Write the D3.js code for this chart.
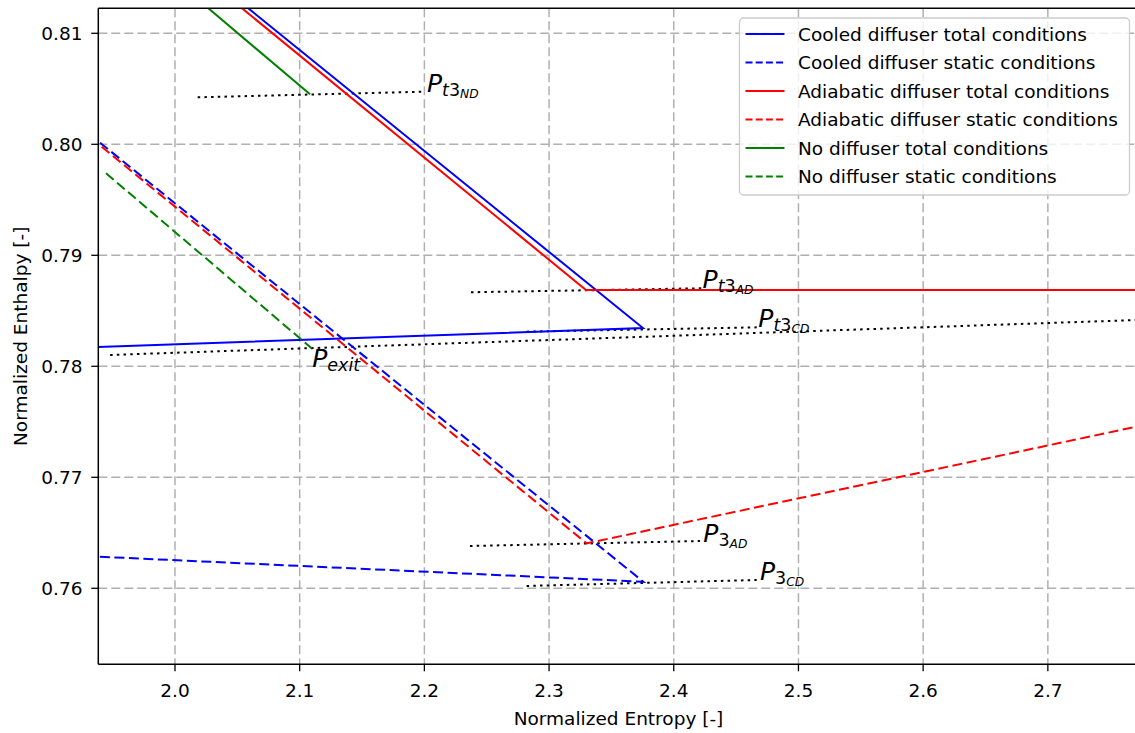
<!DOCTYPE html>
<html>
<head>
<meta charset="utf-8">
<script src="https://cdn.jsdelivr.net/npm/d3@7"></script>
<style>
  html, body { margin: 0; padding: 0; background: #fff; }
  svg { display: block; }
  text { font-family: "DejaVu Sans", sans-serif; fill: #000; }
</style>
</head>
<body>
<svg id="chart" width="1135" height="733"></svg>
<script>
// ---------- data ----------
const xTicks = [2.0, 2.1, 2.2, 2.3, 2.4, 2.5, 2.6, 2.7];
const yTicks = [0.76, 0.77, 0.78, 0.79, 0.80, 0.81];

const cooledTotal     = [[2.03, 0.81487], [2.3753, 0.78345], [1.9385, 0.78174]];
const cooledStatic    = [[1.9399, 0.80014], [2.3756, 0.76059], [1.9385, 0.76285]];
const adiabaticTotal  = [[2.03, 0.81444], [2.3296, 0.78687], [2.80, 0.78687]];
const adiabaticStatic = [[1.9412, 0.79978], [2.3301, 0.76405], [2.80, 0.77525]];
const noDiffTotal     = [[2.01, 0.81385], [2.1083, 0.80450]];
const noDiffStatic    = [[1.9447, 0.79739], [2.1096, 0.78162]];

const isoPt3ND = [[2.0182, 0.80423], [2.2005, 0.80474]];
const isoPt3AD = [[2.2374, 0.78667], [2.4224, 0.78703]];
const isoPt3CD = [[2.2820, 0.78312], [2.4665, 0.78351]];
const isoPexit = [[1.9480, 0.78102], [2.80, 0.78428]];
const isoP3AD  = [[2.2366, 0.76381], [2.4210, 0.76426]];
const isoP3CD  = [[2.2820, 0.76021], [2.4665, 0.76075]];

// label anchor points (data coords) and text parts
const labelPoints = [
  {sub: "t", num: "3", subsub: "ND", x: 2.2021, y: 0.80474},
  {sub: "t", num: "3", subsub: "AD", x: 2.4231, y: 0.78707},
  {sub: "t", num: "3", subsub: "CD", x: 2.4678, y: 0.78357},
  {sub: "exit", num: "", subsub: "", x: 2.1101, y: 0.77991},
  {sub: "", num: "3", subsub: "AD", x: 2.4237, y: 0.76420},
  {sub: "", num: "3", subsub: "CD", x: 2.4691, y: 0.76075}
];

const seriesNames = [
  "Cooled diffuser total conditions",
  "Cooled diffuser static conditions",
  "Adiabatic diffuser total conditions",
  "Adiabatic diffuser static conditions",
  "No diffuser total conditions",
  "No diffuser static conditions"
];
const seriesData = [cooledTotal, cooledStatic, adiabaticTotal, adiabaticStatic, noDiffTotal, noDiffStatic];
const seriesColors = ["#0000ff", "#0000ff", "#ff0000", "#ff0000", "#008000", "#008000"];
const seriesDashed = [false, true, false, true, false, true];
const isobars = [isoPt3ND, isoPt3AD, isoPt3CD, isoPexit, isoP3AD, isoP3CD];

// ---------- layout ----------
const L = 98.3, T = 8.3, R = 1139, B = 664.3;
const x = d3.scaleLinear().domain([1.9385, 2.7731]).range([L, R]);
const y = d3.scaleLinear().domain([0.753153, 0.812252]).range([B, T]);

const svg = d3.select("#chart");
const defs = svg.append("defs");
defs.append("clipPath").attr("id", "plotclip")
  .append("rect").attr("x", L).attr("y", T).attr("width", R - L).attr("height", B - T);

// grid
const grid = svg.append("g").attr("clip-path", "url(#plotclip)");
grid.selectAll("line.gx").data(xTicks).enter().append("line")
  .attr("x1", d => x(d)).attr("x2", d => x(d)).attr("y1", T).attr("y2", B)
  .attr("stroke", "#b0b0b0").attr("stroke-width", 1.5).attr("stroke-dasharray", "9,4");
grid.selectAll("line.gy").data(yTicks).enter().append("line")
  .attr("y1", d => y(d)).attr("y2", d => y(d)).attr("x1", L).attr("x2", R)
  .attr("stroke", "#b0b0b0").attr("stroke-width", 1.5).attr("stroke-dasharray", "9,4");

const line = d3.line().x(d => x(d[0])).y(d => y(d[1]));
const plot = svg.append("g").attr("clip-path", "url(#plotclip)");

// isobars (dotted)
plot.selectAll("path.iso").data(isobars).enter().append("path")
  .attr("d", line).attr("fill", "none").attr("stroke", "#000")
  .attr("stroke-width", 2).attr("stroke-dasharray", "2.5,4.2");

// series
seriesData.forEach((s, i) => {
  plot.append("path").attr("d", line(s)).attr("fill", "none")
    .attr("stroke", seriesColors[i]).attr("stroke-width", 2)
    .attr("stroke-linejoin", "miter")
    .attr("stroke-dasharray", seriesDashed[i] ? "10,4.5" : null);
});

// labels
labelPoints.forEach(p => {
  const t = svg.append("text").attr("x", x(p.x)).attr("y", y(p.y));
  t.append("tspan").text("P").attr("font-style", "italic").attr("font-size", 25);
  let shift = 0;
  if (p.sub) {
    t.append("tspan").text(p.sub).attr("font-style", "italic").attr("font-size", 17.5)
      .attr("dy", p.sub === "exit" ? 3.5 : 4.3);
    shift = 1;
  }
  if (p.num) {
    t.append("tspan").text(p.num).attr("font-size", 17.5)
      .attr("dy", shift ? 0 : 4.3);
  }
  if (p.subsub) {
    t.append("tspan").text(p.subsub).attr("font-style", "italic").attr("font-size", 12.25)
      .attr("dy", 1.8);
  }
});

// axes spines
const ax = svg.append("g");
ax.append("line").attr("x1", L).attr("x2", L).attr("y1", T).attr("y2", B).attr("stroke", "#000").attr("stroke-width", 1.5);
ax.append("line").attr("x1", L).attr("x2", R).attr("y1", B).attr("y2", B).attr("stroke", "#000").attr("stroke-width", 1.5);
ax.append("line").attr("x1", L).attr("x2", R).attr("y1", T).attr("y2", T).attr("stroke", "#000").attr("stroke-width", 1.5);
ax.append("line").attr("x1", R).attr("x2", R).attr("y1", T).attr("y2", B).attr("stroke", "#000").attr("stroke-width", 1.5);

// ticks
const fmtX = d3.format(".1f"), fmtY = d3.format(".2f");
xTicks.forEach(v => {
  ax.append("line").attr("x1", x(v)).attr("x2", x(v)).attr("y1", B).attr("y2", B + 7).attr("stroke", "#000").attr("stroke-width", 1.3);
  ax.append("text").attr("x", x(v)).attr("y", 697).attr("text-anchor", "middle").attr("font-size", 18.5).text(fmtX(v));
});
yTicks.forEach(v => {
  ax.append("line").attr("x1", L - 7).attr("x2", L).attr("y1", y(v)).attr("y2", y(v)).attr("stroke", "#000").attr("stroke-width", 1.3);
  ax.append("text").attr("x", 82.5).attr("y", y(v)).attr("dy", "0.36em").attr("text-anchor", "end").attr("font-size", 18.5).text(fmtY(v));
});

// axis labels
svg.append("text").attr("x", 618.5).attr("y", 725).attr("text-anchor", "middle").attr("font-size", 18.5).text("Normalized Entropy [-]");
svg.append("text").attr("transform", "translate(27,336.3) rotate(-90)").attr("text-anchor", "middle").attr("font-size", 18.5).text("Normalized Enthalpy [-]");

// legend
const lg = svg.append("g");
lg.append("rect").attr("x", 739.5).attr("y", 18).attr("width", 390).attr("height", 177).attr("rx", 4)
  .attr("fill", "#fff").attr("fill-opacity", 0.8).attr("stroke", "#cccccc").attr("stroke-width", 1.3);
seriesNames.forEach((n, i) => {
  const yy = 34 + i * 28.5;
  lg.append("line").attr("x1", 745.5).attr("x2", 784.5).attr("y1", yy).attr("y2", yy)
    .attr("stroke", seriesColors[i]).attr("stroke-width", 2)
    .attr("stroke-dasharray", seriesDashed[i] ? "7,3.2" : null);
  lg.append("text").attr("x", 798).attr("y", yy).attr("dy", "0.36em").attr("font-size", 18.5).text(n);
});
</script>
</body>
</html>
